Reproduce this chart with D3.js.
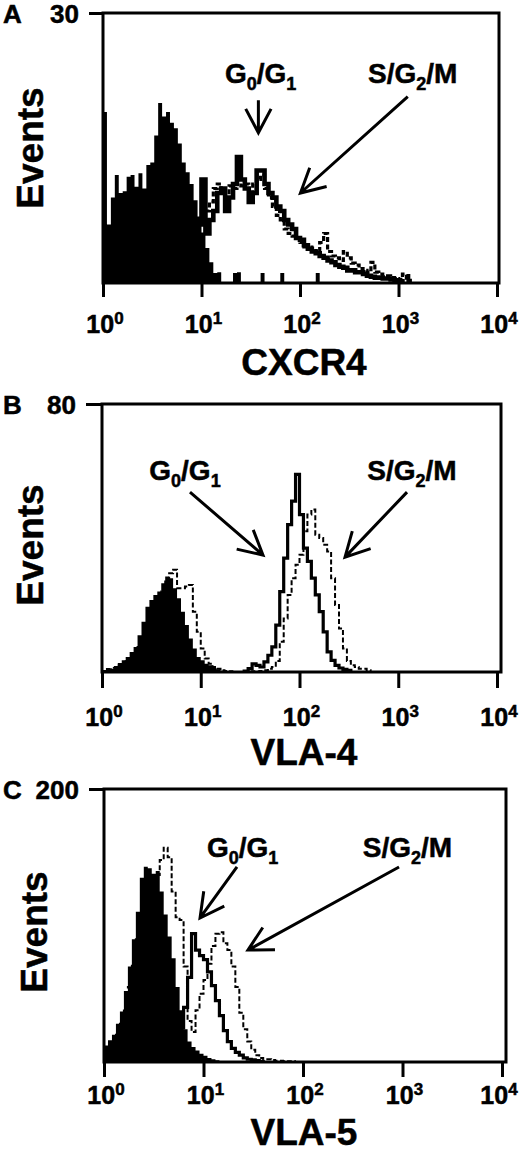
<!DOCTYPE html>
<html><head><meta charset="utf-8">
<script src="https://cdn.jsdelivr.net/npm/d3@7"></script>
<style>
body{margin:0;background:#fff;}
svg{display:block;}
text{font-family:"Liberation Sans",Arial,Helvetica,sans-serif;font-weight:bold;fill:#000;stroke:#000;stroke-width:0.5px;}
</style>
</head><body>
<svg id="chart" width="520" height="1156"></svg>
<script>
// ---------------- DATA ----------------
// channel width in decades (log10 units); each series: first channel (log10) + counts per channel
const BIN = 0.04;
const tickExponents = [0, 1, 2, 3, 4];
const panelLetters = ["A", "B", "C"];
const markerNames = ["CXCR4", "VLA-4", "VLA-5"];
const yMaxValues = [30, 80, 200];

// Panel A — CXCR4
const filledAStart = 0;
const filledA = [19, 6.5, 9.5, 12, 10, 10.2, 11.8, 12, 10.7, 12.2, 10.5, 13.1, 13.4, 16.4, 20, 18.5, 19, 17.8, 17.2, 15.5,
  13.4, 12.3, 11, 9.2, 7.4, 5.6, 3.9, 2.3, 1.1, 1.2, 0, 0, 0, 1.1, 1.2, 0, 0, 0, 0, 0,
  1.1, 0, 0, 0, 0, 1.1, 0, 0, 0, 0, 0, 0, 0, 0, 1.1, 0, 0, 0, 0, 0,
  0, 0, 0, 0, 0, 0, 0, 0, 0, 0, 0, 0, 0, 0, 0, 0, 0, 1.0];
const solidAStart = 0.72;
const solidA = [1, 2, 3, 4, 5, 6, 6.5, 11.5, 5.5, 7, 8, 10, 10.5, 8, 9.5, 11, 14, 11.5, 10.5, 9,
  10, 12.5, 12.5, 11, 10, 9.5, 8.5, 8, 7, 6.5, 6, 5, 4.8, 4.2, 3.8, 3.5, 3.3, 3, 2.8, 2.5,
  2.3, 2, 1.8, 1.7, 1.4, 1.4, 1.2, 1.2, 1, 0.8, 0.7, 0.6, 0.6, 0.5, 0.5, 0.4, 0.3, 0.2];
const dashedAStart = 0.72;
const dashedA = [0.8, 1.5, 2.5, 3.5, 4.5, 5.5, 7, 8.5, 8, 9, 10.5, 11, 10, 9.5, 10.8, 10.5, 12, 10.8, 11, 10,
  11, 11.5, 12, 10.5, 9.5, 8.5, 7.5, 7, 6, 5.5, 5.2, 5, 4.5, 4, 4, 3.6, 3.4, 4.5, 5.5, 3.5,
  3, 2.8, 2.5, 3.5, 2.8, 2.2, 2, 1.6, 1.4, 1.2, 2.3, 1.2, 1, 0.8, 0.8, 0.6, 0.5, 0.4, 1, 0.3];

// Panel B — VLA-4
const filledBStart = 0;
const filledB = [0.5, 1.2, 1, 1.8, 2.7, 3.5, 4.5, 6, 7.5, 11, 15, 19.5, 21.5, 23, 24, 26.5, 28.5, 28, 25, 22,
  18, 14, 10, 7, 4.5, 3.5, 2.5, 2, 1.2, 0.8, 0.4, 0.2];
const solidBStart = 1.44;
const solidB = [0.3, 1, 2.4, 2, 1.5, 3, 5, 7.5, 14, 24, 34, 44, 51, 59, 47, 37, 33, 28, 23, 18,
  12, 6, 3.5, 2, 1.2, 0.8, 0.5];
const dashedBStart = 0;
const dashedB = [0.3, 0.8, 0.8, 1.2, 2, 2.5, 3.2, 4, 5.5, 7.5, 10, 13, 16, 19, 21, 24, 27, 29.5, 30.5, 25,
  25, 25.5, 26, 18, 12, 7, 4, 2.5, 1.5, 1, 0.5, 0.3, 0.2, 0, 0, 0, 0, 0, 0.2, 0.2,
  0.3, 0.5, 1, 1.5, 3.3, 9, 16, 23, 28, 32, 35, 42, 47, 48.5, 41, 40, 38, 36, 28, 20,
  13, 7, 3.3, 2, 1.5, 1, 1, 0.5];

// Panel C — VLA-5
const filledCStart = 0;
const filledC = [12, 16, 20, 28, 37, 52, 70, 90, 110, 135, 143, 142, 138, 140, 125, 108, 92, 76, 55, 38,
  24, 15, 11, 8.5, 6, 4.5, 3, 2, 1.2, 0.6, 0.3];
const solidCStart = 0.68;
const solidC = [5, 12, 25, 40, 62, 94, 82, 78, 75, 66, 56, 45, 34, 23, 15, 10, 7, 5, 3, 2,
  1.5, 1, 0.5];
const dashedCStart = 0;
const dashedC = [5, 10, 14, 20, 28, 40, 55, 72, 90, 110, 125, 132, 135, 137, 148, 157, 150, 125, 106, 104,
  70, 30, 22, 38, 50, 60, 72, 85, 94, 95, 87, 82, 70, 55, 36, 24, 15, 9, 5, 3,
  2, 2, 1.5, 1, 1, 0.8, 0.5, 0.5];

// Annotations in data units: [value, events]
const labelG0 = [[39.8, 22.2], [6.92, 57.3], [24.7, 150.2]];
const labelS = [[1396, 22.2], [1377, 57.3], [1122, 150.2]];
const arrowG0 = [[[37.8, 20.3], [37.8, 16.7]], [[7.78, 53.7], [42.7, 34.9]], [[21.7, 142.9], [9.23, 105.5]]];
const arrowS = [[[1242, 20.7], [101, 10]], [[1227, 53.7], [289, 34.3]], [[923, 142.9], [28, 82]]];

const seriesFilled = [[filledAStart, filledA], [filledBStart, filledB], [filledCStart, filledC]];
const seriesSolid = [[solidAStart, solidA], [solidBStart, solidB], [solidCStart, solidC]];
const seriesDashed = [[dashedAStart, dashedA], [dashedBStart, dashedB], [dashedCStart, dashedC]];

// ---------------- LAYOUT ----------------
const layout = [
  {left: 103, right: 497, frameRight: 499, top: 13, bottom: 283, tick: 14, tickLabelY: 333, axisLabelY: 375, evX: 43, evY: 148, dashW: 3.2, solidW: 4.6},
  {left: 102, right: 497, frameRight: 501, top: 404, bottom: 672, tick: 16, tickLabelY: 726, axisLabelY: 765, evX: 43, evY: 545, dashW: 2, solidW: 3.2},
  {left: 104, right: 502, frameRight: 506, top: 789, bottom: 1062, tick: 15, tickLabelY: 1104, axisLabelY: 1145, evX: 47, evY: 932, dashW: 2, solidW: 3.2}
];

function binPoints(start, values) {
  const pts = [[Math.pow(10, start), 0]];
  values.forEach((v, i) => pts.push([Math.pow(10, start + BIN * i), v]));
  pts.push([Math.pow(10, start + BIN * values.length), 0]);
  return pts;
}

const svg = d3.select("#chart");

panelLetters.forEach((letter, k) => {
  const L = layout[k];
  const x = d3.scaleLog().domain([1, 1e4]).range([L.left, L.right]);
  const y = d3.scaleLinear().domain([0, yMaxValues[k]]).range([L.bottom, L.top]);
  const g = svg.append("g");

  const area = d3.area().curve(d3.curveStepAfter).x(d => x(d[0])).y0(y(0)).y1(d => y(d[1]));
  const line = d3.line().curve(d3.curveStepAfter).x(d => x(d[0])).y(d => y(d[1]));

  g.append("path").attr("d", area(binPoints(...seriesFilled[k]))).attr("fill", "#000");
  g.append("path").attr("d", line(binPoints(...seriesDashed[k])))
    .attr("fill", "none").attr("stroke", "#000").attr("stroke-width", L.dashW).attr("stroke-dasharray", "5,2.5");
  g.append("path").attr("d", line(binPoints(...seriesSolid[k])))
    .attr("fill", "none").attr("stroke", "#000").attr("stroke-width", L.solidW).attr("stroke-linejoin", "miter");

  // frame
  g.append("rect").attr("x", L.left).attr("y", L.top)
    .attr("width", L.frameRight - L.left).attr("height", L.bottom - L.top)
    .attr("fill", "none").attr("stroke", "#000").attr("stroke-width", 3);

  // x axis
  const xa = g.append("g").attr("transform", `translate(0,${L.bottom})`)
    .call(d3.axisBottom(x).tickValues(tickExponents.map(e => Math.pow(10, e))).tickSize(L.tick).tickFormat(""));
  xa.select(".domain").remove();
  xa.selectAll(".tick line").attr("stroke", "#000").attr("stroke-width", 3);
  tickExponents.forEach(e => {
    const cx = Math.min(x(Math.pow(10, e)) + 2, 499);
    const t = g.append("text").attr("x", cx).attr("y", L.tickLabelY)
      .attr("text-anchor", "middle").style("font-size", "25px");
    t.append("tspan").text("10");
    t.append("tspan").attr("dy", -9).style("font-size", "17px").text(String(e));
  });

  // y axis: only the top tick
  const ya = g.append("g").attr("transform", `translate(${L.left},0)`)
    .call(d3.axisLeft(y).tickValues([yMaxValues[k]]).tickSize(L.tick).tickPadding(10));
  ya.select(".domain").remove();
  ya.selectAll(".tick line").attr("stroke", "#000").attr("stroke-width", 3);
  ya.selectAll(".tick text").attr("fill", "#000").attr("dy", "0.36em")
    .style("font-size", "26px").style("font-family", "'Liberation Sans',Arial,sans-serif")
    .style("font-weight", "bold").style("stroke", "#000").style("stroke-width", "0.5px");

  // panel letter
  g.append("text").attr("x", 3).attr("y", L.top + 10).style("font-size", "26px").text(letter);

  // axis titles
  g.append("text").attr("x", 304).attr("y", L.axisLabelY).attr("text-anchor", "middle")
    .style("font-size", "37px").text(markerNames[k]);
  g.append("text").attr("transform", `translate(${L.evX},${L.evY}) rotate(-90)`)
    .attr("text-anchor", "middle").style("font-size", "37px").text("Events");

  // annotation labels
  const tg = g.append("text").attr("x", x(labelG0[k][0])).attr("y", y(labelG0[k][1]))
    .attr("text-anchor", "middle").style("font-size", "28px");
  tg.append("tspan").text("G");
  tg.append("tspan").attr("dy", 7).style("font-size", "18px").text("0");
  tg.append("tspan").attr("dy", -7).text("/G");
  tg.append("tspan").attr("dy", 7).style("font-size", "18px").text("1");

  const ts = g.append("text").attr("x", x(labelS[k][0])).attr("y", y(labelS[k][1]))
    .attr("text-anchor", "middle").style("font-size", "28px");
  ts.append("tspan").text("S/G");
  ts.append("tspan").attr("dy", 7).style("font-size", "18px").text("2");
  ts.append("tspan").attr("dy", -7).text("/M");

  // arrows
  [arrowG0[k], arrowS[k]].forEach(a => {
    const sx = x(a[0][0]), sy = y(a[0][1]), tx = x(a[1][0]), ty = y(a[1][1]);
    const ang = Math.atan2(sy - ty, sx - tx), h = 27, w = 28 * Math.PI / 180;
    const p = d3.path();
    p.moveTo(sx, sy); p.lineTo(tx, ty);
    p.moveTo(tx + h * Math.cos(ang + w), ty + h * Math.sin(ang + w));
    p.lineTo(tx, ty);
    p.lineTo(tx + h * Math.cos(ang - w), ty + h * Math.sin(ang - w));
    g.append("path").attr("d", p.toString()).attr("fill", "none").attr("stroke", "#000")
      .attr("stroke-width", 3).attr("stroke-linecap", "butt").attr("stroke-linejoin", "miter");
  });
});
</script>
</body></html>
